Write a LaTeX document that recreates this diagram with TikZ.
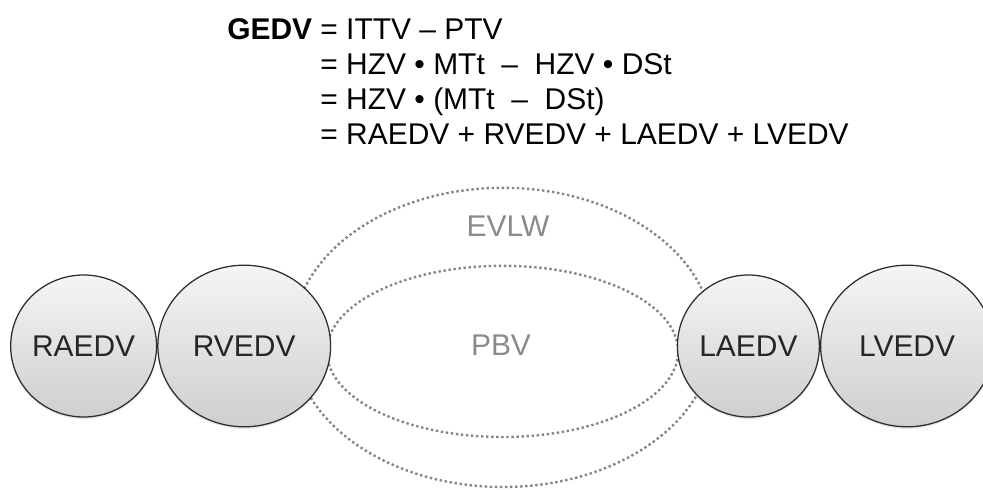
\documentclass[tikz,border=0pt]{standalone}
\usepackage{fontspec}
\setmainfont{Liberation Sans}
\usepackage{xcolor}
\usepackage{tikz}
\usetikzlibrary{shapes.geometric,shadows,positioning}

\definecolor{rimgray}{HTML}{2E2E2E}
\definecolor{dotgray}{HTML}{858585}
\definecolor{labelgray}{HTML}{8A8A8A}

\tikzset{
	chamber/.style={ellipse, draw=rimgray, line width=0.9pt, inner sep=0pt,
		top color=gray!8, bottom color=gray!38,
		drop shadow={opacity=0.18, shadow xshift=0pt, shadow yshift=-1.5pt},
		font=\fontsize{21.3}{24}\selectfont, text=black!85},
	atrium/.style={chamber, minimum width=3.55cm, minimum height=3.55cm},
	ventricle/.style={chamber, minimum width=4.32cm, minimum height=4.04cm},
	dotline/.style={draw=dotgray, line width=1.7pt, line cap=butt, dash pattern=on 1.7pt off 1.9pt},
	vollabel/.style={text=labelgray, font=\fontsize{21.3}{24}\selectfont}
}

\begin{document}
\begin{tikzpicture}
	\useasboundingbox (0,0) rectangle (24.575,12.225);

	% lung blood volume, drawn first so the chambers cover its ends
	\draw[dotline] (12.575,3.79) ellipse [x radius=5.25, y radius=3.74];
	\draw[dotline] (12.5625,3.44) ellipse [x radius=4.39, y radius=2.14];
	\node[vollabel] (evlw) at (12.7,6.575) {EVLW};
	\node[vollabel] (pbv) at (12.525,3.6) {PBV};

	% right heart
	\node[atrium] (raedv) at (2.09,3.575) {RAEDV};
	\node[ventricle, right=0pt of raedv] (rvedv) {RVEDV};

	% left heart
	\node[atrium] (laedv) at (18.71,3.575) {LAEDV};
	\node[ventricle, right=0pt of laedv] (lvedv) {LVEDV};

	% equation
	\node[anchor=base west, inner sep=0pt, font=\fontsize{21.3}{24.9}\selectfont] (gedv) at (5.675,11.25) {%
		\begin{tabular}[t]{@{}r@{ }l@{}}
			\textbf{GEDV} & = ITTV – PTV\\
			& = HZV • MTt\ \ –\ \ HZV • DSt\\
			& = HZV • (MTt\ \ –\ \ DSt)\\
			& = RAEDV + RVEDV + LAEDV + LVEDV
		\end{tabular}};
\end{tikzpicture}
\end{document}
